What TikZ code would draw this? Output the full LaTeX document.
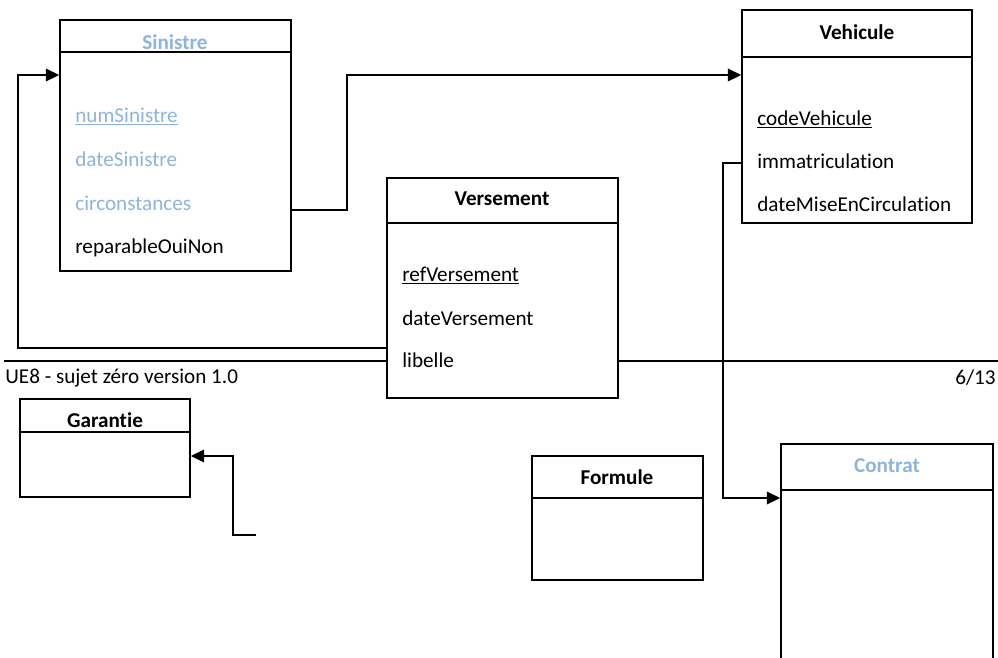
\documentclass[tikz,border=0pt]{standalone}
\usepackage{fontspec}
\setmainfont{Carlito}[Ligatures={NoCommon,NoRare,NoContextual}]
\usetikzlibrary{arrows.meta,fit}
\definecolor{lightblue}{RGB}{141,180,226}
\newcommand{\diagfont}{\fontsize{11pt}{13pt}\selectfont}

\tikzset{
  classbox/.style={draw, line width=0.75pt, fill=white, inner sep=0pt},
  classtitle/.style={font=\diagfont\bfseries, inner sep=0pt},
  attr/.style={anchor=base west, font=\diagfont, inner sep=0pt},
  assoc/.style={line width=1pt, -{Triangle[length=7pt,width=6.5pt]}}
}

\begin{document}
\begin{tikzpicture}[x=0.52pt, y=-0.52pt]
  \useasboundingbox (0,0) rectangle (998,657);

  % Page footer
  \coordinate (footstart) at (4,361);
  \coordinate (footend) at (998,361);
  \draw[line width=0.6pt] (footstart) -- (footend);
  \node[attr] (footleft) at (5,383) {UE8 - sujet zéro version 1.0};
  \node[attr, anchor=base east] (footright) at (996,384) {6/13};

  % Sinistre
  \node[classbox, fit={(60,20) (291,52)}] (sinistrehead) {};
  \node[classbox, fit={(60,52) (291,271)}] (sinistre) {};
  \node[classtitle, text=lightblue] (sinistretitle) at (175,42) {Sinistre};
  \node[attr, text=lightblue] (numsinistre) at (75,122) {\underline{numSinistre}};
  \node[attr, text=lightblue] (datesinistre) at (75,166) {dateSinistre};
  \node[attr, text=lightblue] (circonstances) at (75,210) {circonstances};
  \node[attr] (reparable) at (75,253) {reparableOuiNon};

  % Vehicule
  \node[classbox, fit={(742,10) (972,57)}] (vehiculehead) {};
  \node[classbox, fit={(742,57) (972,223)}] (vehicule) {};
  \node[classtitle] (vehiculetitle) at (857,32) {Vehicule};
  \node[attr] (codevehicule) at (757,125) {\underline{codeVehicule}};
  \node[attr] (immat) at (757,168) {immatriculation};
  \node[attr] (datemise) at (757,211) {dateMiseEnCirculation};

  % Versement
  \node[classbox, fit={(387,178) (618,223)}] (versementhead) {};
  \node[classbox, fit={(387,223) (618,398)}] (versement) {};
  \node[classtitle] (versementtitle) at (502,199) {Versement};
  \node[attr] (refversement) at (402,281) {\underline{refVersement}};
  \node[attr] (dateversement) at (402,325) {dateVersement};
  \node[attr] (libelle) at (402,367) {libelle};

  % Garantie
  \node[classbox, fit={(20,399) (190,432)}] (garantiehead) {};
  \node[classbox, fit={(20,432) (190,497)}] (garantie) {};
  \node[classtitle] (garantietitle) at (105,420) {Garantie};

  % Formule
  \node[classbox, fit={(532,456) (703,498)}] (formulehead) {};
  \node[classbox, fit={(532,498) (703,580)}] (formule) {};
  \node[classtitle] (formuletitle) at (617,477) {Formule};

  % Contrat
  \node[classbox, fit={(781,444) (993,490)}] (contrathead) {};
  \node[classbox, fit={(781,490) (993,665)}] (contrat) {};
  \node[classtitle, text=lightblue] (contrattitle) at (887,466) {Contrat};

  % Associations
  \coordinate (vslow) at (18,348);
  \coordinate (vshigh) at (18,75);
  \draw[assoc] (versement.west |- vslow) -- (vslow) -- (vshigh) -- (sinistre.west |- vshigh);

  \coordinate (svlow) at (347,210);
  \coordinate (svhigh) at (347,75);
  \draw[assoc] (sinistre.east |- svlow) -- (svlow) -- (svhigh) -- (vehicule.west |- svhigh);

  \coordinate (vchigh) at (723,163);
  \coordinate (vclow) at (723,498);
  \draw[assoc] (vehicule.west |- vchigh) -- (vchigh) -- (vclow) -- (contrat.west |- vclow);

  \coordinate (gastart) at (256,535);
  \coordinate (galow) at (233,535);
  \coordinate (gahigh) at (233,456);
  \draw[assoc] (gastart) -- (galow) -- (gahigh) -- (garantie.east |- gahigh);
\end{tikzpicture}
\end{document}
